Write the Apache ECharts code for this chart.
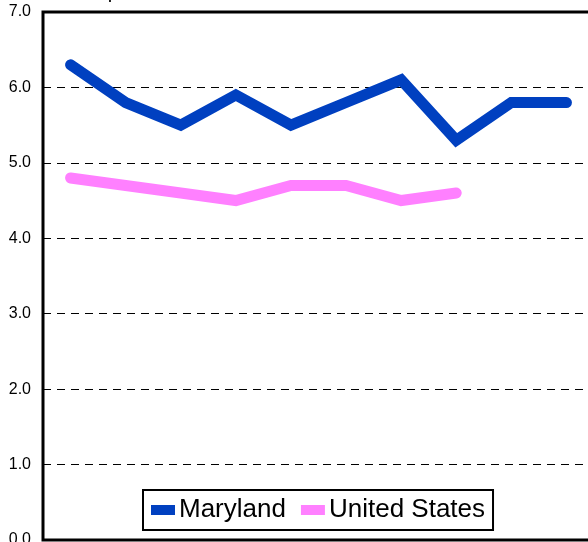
<!DOCTYPE html>
<html>
<head>
<meta charset="utf-8">
<script src="https://cdn.jsdelivr.net/npm/echarts@6/dist/echarts.min.js"></script>
<style>
  html, body { margin: 0; padding: 0; background: #fff; }
  #chart { width: 588px; height: 542px; }
</style>
</head>
<body>
<div id="chart"></div>
<script>
// data
var years = ['1995', '1996', '1997', '1998', '1999', '2000', '2001', '2002', '2003', '2004'];
var maryland = [6.3, 5.8, 5.5, 5.9, 5.5, 5.8, 6.1, 5.3, 5.8, 5.8];
var unitedStates = [4.8, 4.7, 4.6, 4.5, 4.7, 4.7, 4.5, 4.6, null, null];
var yTicks = [0, 1, 2, 3, 4, 5, 6, 7];

var chart = echarts.init(document.getElementById('chart'));

function lineSeries(name, data, color) {
    return {
        name: name,
        type: 'line',
        data: data,
        symbol: 'none',
        connectNulls: false,
        animation: false,
        lineStyle: { color: color, width: 11, cap: 'round', join: 'miter' },
        itemStyle: { color: color }
    };
}

chart.setOption({
    animation: false,
    textStyle: { fontFamily: 'Liberation Sans, Arial, sans-serif', color: '#000' },
    graphic: [{
        type: 'text',
        left: 60,
        top: -18,
        style: {
            text: 'Rate per 1000 live births',
            font: '20px "Liberation Sans", Arial, sans-serif',
            fill: '#000'
        }
    }],
    grid: {
        left: 43,
        top: 12,
        width: 551,
        height: 528,
        outerBoundsMode: 'none',
        containLabel: false,
        show: true,
        borderColor: '#000',
        borderWidth: 3,
        z: 10
    },
    legend: {
        left: 143,
        top: 490,
        orient: 'horizontal',
        icon: 'rect',
        itemWidth: 24,
        itemHeight: 10,
        itemGap: 15,
        padding: [6, 8, 6, 8],
        borderColor: '#000',
        borderWidth: 2,
        backgroundColor: '#fff',
        textStyle: { fontSize: 26, color: '#000', lineHeight: 28, padding: [0, 0, 0, -1] },
        data: ['Maryland', 'United States']
    },
    xAxis: {
        type: 'category',
        data: years,
        boundaryGap: true,
        axisLine: { show: false },
        axisTick: { show: false },
        axisLabel: { show: false },
        splitLine: { show: false }
    },
    yAxis: {
        type: 'value',
        min: yTicks[0],
        max: yTicks[yTicks.length - 1],
        interval: 1,
        axisLine: { show: false },
        axisTick: { show: false },
        axisLabel: {
            color: '#000',
            fontSize: 16,
            margin: 12,
            formatter: function (v) { return v.toFixed(1); }
        },
        splitLine: { lineStyle: { color: '#000', width: 1, type: [8, 6] } }
    },
    series: [
        lineSeries('Maryland', maryland, '#0040c0'),
        lineSeries('United States', unitedStates, '#ff80ff')
    ]
});
</script>
</body>
</html>
